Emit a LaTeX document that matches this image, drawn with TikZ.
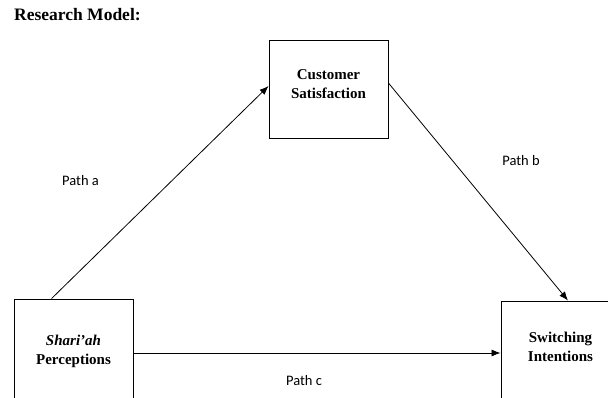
\documentclass[tikz,border=0pt]{standalone}
\usepackage{fontspec}
\setmainfont{Liberation Serif}
\newfontfamily\pathfont{Carlito}
\usetikzlibrary{positioning,arrows.meta}

\tikzset{
  var/.style={draw, line width=0.9pt, minimum width=119pt, minimum height=98pt,
    align=center, inner sep=0pt, font=\fontsize{15}{19}\selectfont\bfseries},
  pathlabel/.style={font=\fontsize{14.5}{17}\pathfont, inner sep=0pt},
  link/.style={->,>={Latex[length=9pt,width=7pt]}, line width=0.8pt}
}

\begin{document}
\begin{tikzpicture}[x=1pt,y=-1pt]
\useasboundingbox (0,0) rectangle (608,397);

% Titre
  \node[anchor=west, inner sep=0pt, font=\fontsize{17.5}{19}\selectfont\bfseries] (title) at (14,15) {Research Model:};

% Variables
  \node[var] (cust) at (328.5,89) {Customer\\Satisfaction\\[-10pt]};
  \node[var, minimum height=104pt] (shariah) at (73.5,351) {\textit{Shari'ah}\\Perceptions};
  \node[var, minimum height=104pt] (switch) at (560.5,353) {Switching\\Intentions\\[-6pt]};

% Chemins
  \draw[link] ([xshift=38pt]shariah.north west) -- ([yshift=3pt]cust.west);
  \draw[link] ([yshift=6pt]cust.east) -- ([xshift=7.5pt]switch.north);
  \draw[link] ([yshift=-2pt]shariah.east) -- ([yshift=-2pt]shariah.east -| switch.west);

% Labels
  \node[pathlabel] (pa) at (80.5,181) {Path a};
  \node[pathlabel] (pb) at (521,161) {Path b};
  \node[pathlabel] (pc) at (304,381) {Path c};
\end{tikzpicture}
\end{document}
